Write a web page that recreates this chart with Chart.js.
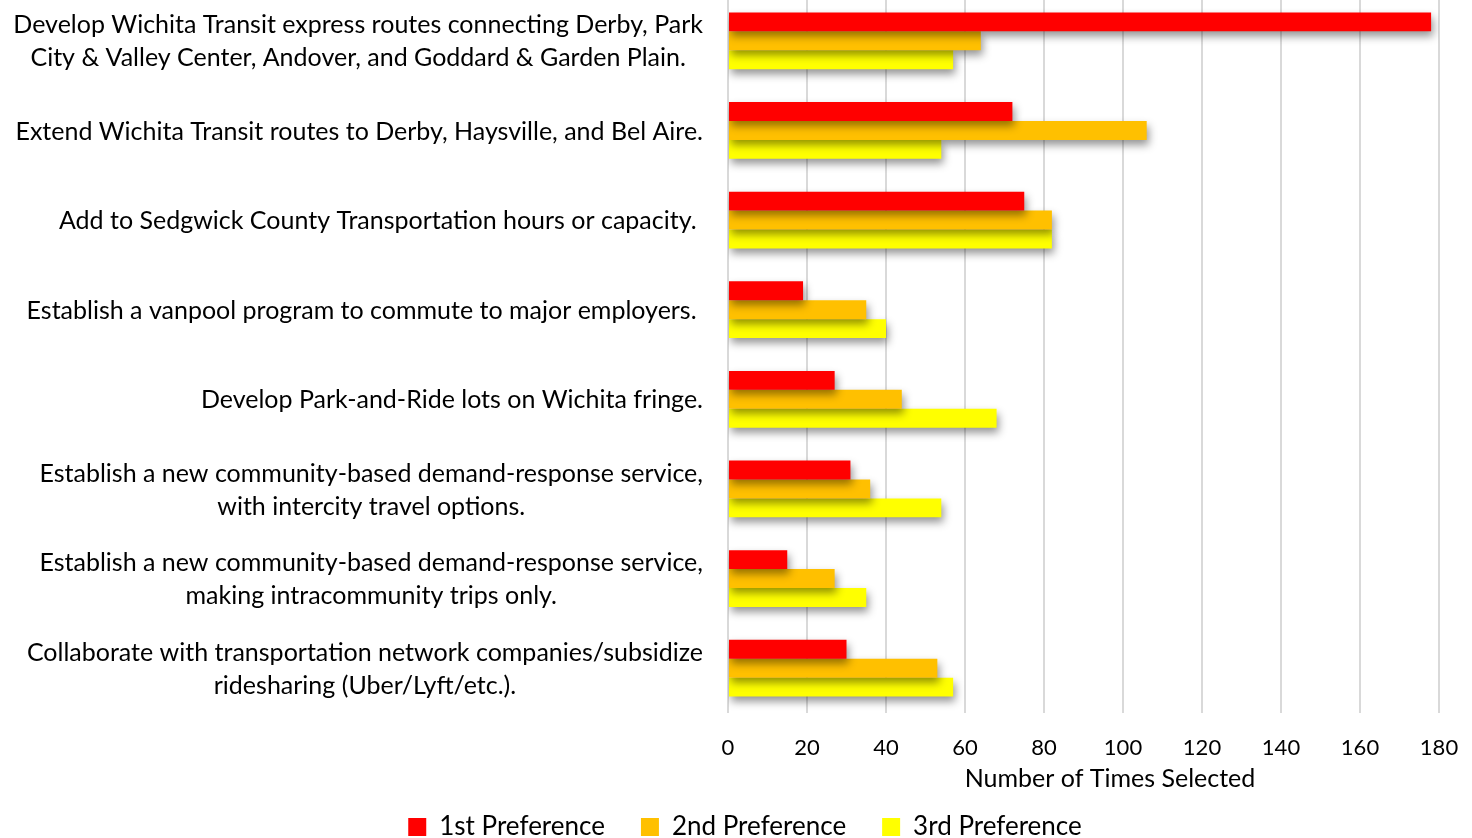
<!DOCTYPE html>
<html lang="en">
<head>
<meta charset="utf-8">
<title>Transit Improvement Preferences</title>
<script src="https://cdn.jsdelivr.net/npm/chart.js@4/dist/chart.umd.min.js"></script>
<style>
    html, body { margin: 0; padding: 0; background: #fff; overflow: hidden; width: 1472px; height: 838px; }
    #wrap { position: absolute; left: 0; top: -4px; width: 1472px; height: 854px; }
</style>
</head>
<body>
<div id="wrap"><canvas id="prefChart" width="1472" height="854"></canvas></div>
<script>
// ============================================================================
// Data
// ============================================================================

const categories = [
    ['Develop Wichita Transit express routes connecting Derby, Park', 'City & Valley Center, Andover, and Goddard & Garden Plain.'],
    ['Extend Wichita Transit routes to Derby, Haysville, and Bel Aire.'],
    ['Add to Sedgwick County Transportation hours or capacity. '],
    ['Establish a vanpool program to commute to major employers. '],
    ['Develop Park-and-Ride lots on Wichita fringe.'],
    ['Establish a new community-based demand-response service,', 'with intercity travel options.'],
    ['Establish a new community-based demand-response service,', 'making intracommunity trips only.'],
    ['Collaborate with transportation network companies/subsidize', 'ridesharing (Uber/Lyft/etc.).'],
];

const seriesNames = ['1st Preference', '2nd Preference', '3rd Preference'];
const firstPref  = [178, 72, 75, 19, 27, 31, 15, 30];
const secondPref = [64, 106, 82, 35, 44, 36, 27, 53];
const thirdPref  = [57, 54, 82, 40, 68, 54, 35, 57];
const xTicks = [0, 20, 40, 60, 80, 100, 120, 140, 160, 180];
const xTitle = 'Number of Times Selected';

// ============================================================================
// Styling
// ============================================================================

const COLORS = ['#FF0000', '#FFC000', '#FFFF00'];
const FONT = 'Lato, "Open Sans", sans-serif';
const TEXT_COLOR = '#000000';
const GRID_COLOR = '#D9D9D9';
const PAD_LEFT = 51;

// Category labels: lines centred on each other, block right-aligned to the axis
const categoryLabelPlugin = {
    id: 'categoryLabels',
    afterDraw(chart) {
        const { ctx } = chart;
        const yScale = chart.scales.y;
        const rightEdge = chart.chartArea.left - 25;
        const lineHeight = 33;
        ctx.save();
        ctx.font = `25px ${FONT}`;
        ctx.fillStyle = TEXT_COLOR;
        ctx.textAlign = 'center';
        ctx.textBaseline = 'middle';
        categories.forEach((lines, i) => {
            const cy = yScale.getPixelForTick(i) + 1;
            const maxW = Math.max(...lines.map(l => ctx.measureText(l).width));
            const cx = rightEdge - maxW / 2;
            const startY = cy - (lines.length - 1) * lineHeight / 2;
            lines.forEach((line, j) => ctx.fillText(line, cx, startY + j * lineHeight));
        });

        // axis title
        ctx.fillText(xTitle, 1110, chart.chartArea.bottom + 66);
        ctx.restore();
    }
};

// Soft drop shadow under the bars
const barShadowPlugin = {
    id: 'barShadow',
    beforeDatasetsDraw(chart) {
        const { ctx } = chart;
        ctx.save();
        ctx.shadowColor = 'rgba(0, 0, 0, 0.42)';
        ctx.shadowBlur = 9;
        ctx.shadowOffsetX = 2;
        ctx.shadowOffsetY = 5;
    },
    afterDatasetsDraw(chart) {
        chart.ctx.restore();
    }
};

const buildDatasets = () => [firstPref, secondPref, thirdPref].map((values, i) => ({
    label: seriesNames[i],
    data: values,
    backgroundColor: COLORS[i],
    borderWidth: 0,
    barPercentage: 1.0,
    categoryPercentage: 0.632,
}));

const init = () => {
    const ctx = document.getElementById('prefChart').getContext('2d');
    new Chart(ctx, {
        type: 'bar',
        data: {
            labels: categories.map(c => c.join(' ')),
            datasets: buildDatasets(),
        },
        options: {
            indexAxis: 'y',
            responsive: false,
            animation: false,
            layout: { padding: { top: 0, right: 33, left: PAD_LEFT, bottom: 0 } },
            scales: {
                x: {
                    min: 0,
                    max: 180,
                    afterBuildTicks: (scale) => { scale.ticks = xTicks.map(v => ({ value: v })); },
                    afterFit: (scale) => {
                        scale.height = 65;
                        scale.paddingLeft = 0;
                        scale.paddingRight = 0;
                    },
                    grid: { color: GRID_COLOR, lineWidth: 2, drawTicks: false },
                    border: { display: false },
                    ticks: {
                        color: TEXT_COLOR,
                        font: { family: FONT, size: 22 },
                        padding: 22,
                        maxRotation: 0,
                    },
                },
                y: {
                    afterFit: (scale) => { scale.width = 728 - PAD_LEFT; },
                    grid: { display: false },
                    border: { display: false },
                    ticks: { display: false },
                },
            },
            plugins: {
                legend: {
                    position: 'bottom',
                    labels: {
                        color: TEXT_COLOR,
                        font: { family: FONT, size: 26 },
                        boxWidth: 18,
                        boxHeight: 18,
                        padding: 36,
                    },
                },
                tooltip: { enabled: false },
            },
        },
        plugins: [barShadowPlugin, categoryLabelPlugin],
    });
};

init();
</script>
</body>
</html>
